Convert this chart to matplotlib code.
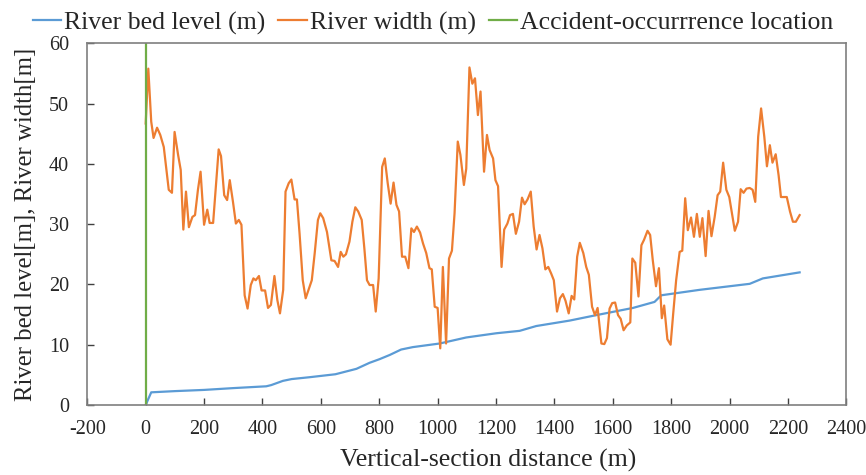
import matplotlib
matplotlib.use("Agg")
import matplotlib.pyplot as plt

# River width (m) vs vertical-section distance (m)
width_x = [0, 9, 19, 27, 39, 50, 62, 79, 90, 99, 111, 120, 129, 138, 148, 160, 169, 179, 188, 200,
           211, 219, 231, 250, 258, 269, 279, 288, 299, 309, 319, 328, 339, 349, 360, 369, 377, 388,
           397, 409, 419, 429, 441, 451, 460, 471, 479, 490, 499, 510, 518, 527, 538, 548, 559, 569,
           579, 590, 598, 608, 621, 636, 647, 659, 668, 677, 686, 698, 708, 718, 728, 740, 749, 758,
           767, 779, 788, 798, 810, 819, 829, 839, 849, 859, 868, 878, 889, 900, 910, 919, 929, 940,
           950, 961, 972, 980, 990, 1000, 1009, 1018, 1029, 1039, 1049, 1058, 1069, 1078, 1090, 1098,
           1109, 1119, 1128, 1138, 1147, 1159, 1169, 1178, 1190, 1198, 1207, 1219, 1228, 1239, 1248,
           1258, 1268, 1279, 1289, 1298, 1308, 1319, 1329, 1339, 1349, 1359, 1369, 1379, 1389, 1398,
           1409, 1419, 1429, 1438, 1449, 1459, 1468, 1478, 1487, 1499, 1509, 1518, 1529, 1539, 1548,
           1561, 1571, 1580, 1589, 1598, 1608, 1618, 1627, 1637, 1648, 1660, 1667, 1677, 1688, 1698,
           1707, 1719, 1728, 1737, 1748, 1758, 1768, 1776, 1787, 1798, 1807, 1817, 1829, 1838, 1848,
           1857, 1868, 1878, 1888, 1898, 1907, 1918, 1928, 1938, 1949, 1959, 1968, 1978, 1989, 1999,
           2008, 2018, 2029, 2038, 2048, 2058, 2069, 2079, 2088, 2098, 2108, 2119, 2128, 2138, 2147,
           2158, 2168, 2176, 2196, 2207, 2217, 2227, 2240]
width_y = [46.7, 55.8, 47.0, 44.3, 46.0, 44.8, 42.8, 35.7, 35.2, 45.3, 41.5, 39.0, 29.1, 35.4, 29.5,
           31.2, 31.5, 35.7, 38.7, 29.9, 32.4, 30.2, 30.2, 42.4, 41.3, 34.8, 34.0, 37.3, 33.7, 30.1,
           30.7, 29.9, 18.2, 16.0, 19.9, 21.0, 20.7, 21.4, 19.0, 19.0, 16.1, 16.6, 21.4, 17.4, 15.2,
           19.1, 35.4, 36.8, 37.4, 34.1, 34.1, 28.5, 20.7, 17.7, 19.3, 20.7, 25.2, 30.7, 31.8, 31.0,
           28.7, 24.0, 23.9, 22.9, 25.4, 24.6, 25.0, 27.1, 30.4, 32.8, 32.1, 30.7, 26.0, 20.7, 19.9,
           19.9, 15.5, 21.0, 39.5, 40.9, 36.8, 33.4, 36.9, 33.2, 32.1, 24.6, 24.6, 22.7, 29.3, 28.7,
           29.6, 28.6, 26.8, 25.2, 22.7, 22.5, 16.3, 16.1, 9.4, 22.9, 10.2, 24.3, 25.6, 31.8, 43.7,
           41.5, 36.5, 39.2, 56.0, 53.3, 54.2, 48.1, 52.0, 38.7, 44.8, 42.3, 40.9, 37.3, 36.3, 22.9,
           29.1, 30.1, 31.5, 31.7, 28.4, 30.4, 34.4, 33.3, 34.1, 35.4, 29.6, 25.8, 28.2, 26.0, 22.5,
           22.9, 21.8, 20.7, 15.5, 17.7, 18.4, 17.3, 15.2, 18.1, 17.5, 24.6, 26.9, 25.2, 22.9, 21.6,
           16.3, 14.9, 16.1, 10.2, 10.1, 11.1, 16.0, 16.9, 17.0, 14.9, 14.3, 12.4, 13.2, 13.7, 24.3,
           23.6, 18.0, 26.5, 27.4, 28.9, 28.2, 24.0, 19.7, 22.7, 14.4, 16.5, 10.9, 10.0, 15.2, 20.7,
           25.4, 25.6, 34.3, 29.0, 31.1, 27.9, 31.7, 27.9, 31.0, 24.7, 32.2, 28.0, 31.2, 34.8, 35.4,
           40.2, 35.7, 34.5, 31.8, 28.9, 30.4, 35.8, 35.2, 35.9, 36.0, 35.7, 33.7, 44.5, 49.2, 44.5,
           39.6, 43.1, 40.2, 41.6, 38.1, 34.5, 34.5, 32.1, 30.4, 30.4, 31.5]

# River bed level (m)
bed_x = [0, 19, 100, 200, 300, 413, 430, 470, 500, 560, 650, 722, 767, 801, 836, 875, 915, 1007,
         1098, 1201, 1281, 1338, 1452, 1543, 1669, 1743, 1766, 1897, 2069, 2114, 2240]
bed_y = [0.0, 2.1, 2.3, 2.5, 2.8, 3.1, 3.3, 4.0, 4.3, 4.6, 5.1, 6.0, 7.0, 7.6, 8.3, 9.2, 9.6, 10.2,
         11.2, 11.9, 12.3, 13.1, 14.0, 14.9, 16.1, 17.1, 18.2, 19.1, 20.1, 21.0, 22.0]

# Accident-occurrence location
acc_x = [0, 0]
acc_y = [0, 60]

x_ticks = list(range(-200, 2401, 200))
y_ticks = list(range(0, 61, 10))

plt.rcParams['font.family'] = ['Liberation Serif', 'DejaVu Serif']
plt.rcParams['axes.unicode_minus'] = False

fig = plt.figure(figsize=(8.66, 4.75), dpi=100)
ax = fig.add_axes([0.1008, 0.1474, 0.8765, 0.7614])

lw = 1.6
ax.plot(bed_x, bed_y, color='#5B9BD5', lw=lw, label='River bed level (m)')
ax.plot(width_x, width_y, color='#ED7D31', lw=lw, label='River width (m)')
ax.plot(acc_x, acc_y, color='#70AD47', lw=lw, label='Accident-occurrrence location')

ax.set_xlim(-200, 2400)
ax.set_ylim(0, 60)
ax.set_xticks(x_ticks)
ax.set_yticks(y_ticks)
ax.tick_params(direction='in', length=5, width=1, color='#404040', labelsize=14.5,
               labelcolor='#262626')
ax.tick_params(axis='x', pad=11)
ax.tick_params(axis='y', pad=13)
for s in ax.spines.values():
    s.set_color('#7f7f7f')
    s.set_linewidth(1.2)

ax.set_xlabel('Vertical-section distance (m)', fontsize=18.5, color='#262626')
ax.xaxis.set_label_coords(0.528, -0.152, transform=ax.transAxes)
ax.xaxis.label.set_va('center')
ax.set_ylabel('River bed level[m], River width[m]', fontsize=17.8, color='#262626', labelpad=9)

fig.legend(loc='upper center', bbox_to_anchor=(0.5, 1.025), ncol=3, frameon=False,
           fontsize=18.5, handlelength=1.1, handletextpad=0.12, columnspacing=0.5,
           labelcolor='#262626')

fig.savefig('out.png', dpi=100)
